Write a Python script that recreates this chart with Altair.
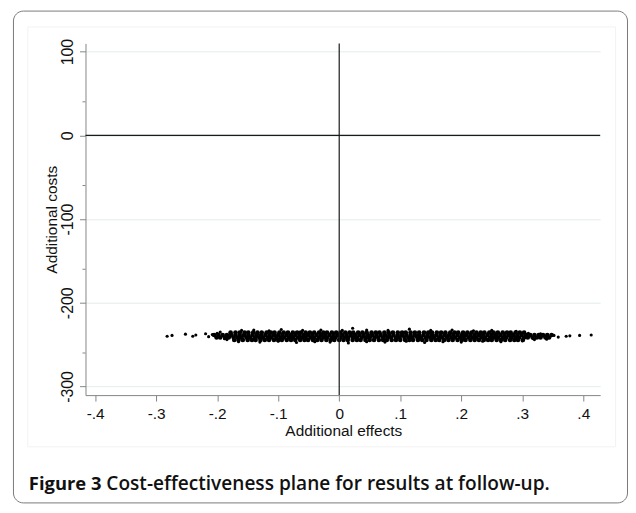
import altair as alt
import pandas as pd

# ---- axis values ----
x_ticks = [-0.4, -0.3, -0.2, -0.1, 0, 0.1, 0.2, 0.3, 0.4]
y_ticks = [-300, -200, -100, 0, 100]
y_minor = [-260, -160, -60, 40]
x_domain = [-0.4158, 0.4277]
y_domain = [-310.3, 109.8]

# ---- bootstrap cloud, x in thousandths ----
row_y = [-235.5, -238.5, -241.5, -244.5]
row1_x = [-178,-170,-163,-155,-149,-141,-134,-127,-119,-112,-106,-98,-91,-84,-76,-69,-63,-55,-48,-41,-33,-26,-20,-12,-5,2,10,17,23,31,38,45,53,60,66,74,81,88,96,103,109,117,124,131,139,146,152,160,167,174,182,189,195,203,210,217,225,232,238,246,253,260,268,275,281,289,296,303]
row2_x = [-205,-198,-191,-184,-177,-170,-163,-156,-149,-142,-135,-128,-121,-114,-107,-100,-93,-86,-79,-72,-65,-58,-51,-44,-37,-30,-23,-16,-9,-2,5,12,19,26,33,40,47,54,61,68,75,82,89,96,103,110,117,124,131,138,145,152,159,166,173,180,187,194,201,208,215,222,229,236,243,250,257,264,271,278,285,292,299,306,313,320,327,334,341,348]
row3_x = [-201,-195,-187,-181,-173,-166,-160,-152,-146,-138,-131,-125,-117,-111,-103,-96,-90,-82,-76,-68,-61,-55,-47,-41,-33,-26,-20,-12,-6,2,9,15,23,29,37,44,50,58,64,72,79,85,93,99,107,114,120,128,134,142,149,155,163,169,177,184,190,198,204,212,219,225,233,239,247,254,260,268,274,282,289,295,303,309,317,324,330,338,344]
row4_x = [-172,-165,-158,-150,-143,-137,-129,-122,-115,-107,-100,-94,-86,-79,-72,-64,-57,-51,-43,-36,-29,-21,-14,-8,0,7,14,22,29,35,43,50,57,65,72,78,86,93,100,108,115,121,129,136,143,151,158,164,172,179,186,194,201,207,215,222,229,237,244,250,258,265,272,280,287,293,301]

# scattered points (tails and ragged edges)
extra_x = [-282,-274,-252,-240,-235,-219,-214,-208,-200,-195,-188,-184,
           -160,-140,-115,-95,-60,-30,5,22,45,80,115,150,185,220,250,290,
           -165,-130,-100,-70,-40,-15,15,45,75,110,140,170,200,235,265,300,320,
           310,318,330,340,352,359,372,378,394,413]
extra_y = [-240,-239,-237.5,-240,-238.5,-237,-240.5,-238,-236.5,-235,-243,-244,
           -233,-232.5,-233.5,-232,-233,-232.5,-233,-230.5,-232.5,-233,-231.5,-233,-232.5,-233.5,-233,-234,
           -246.5,-247,-246,-247.5,-246.5,-247,-248,-246.5,-247,-246,-247.5,-246.5,-247,-246,-246.5,-245.5,-244,
           -236.5,-243,-237,-243.5,-239,-241,-240,-239.5,-239,-238.5]

cx, cy = [], []
for yv, row in zip(row_y, [row1_x, row2_x, row3_x, row4_x]):
    for xv in row:
        cx.append(xv / 1000)
        cy.append(yv)
core = pd.DataFrame({"effect": cx, "cost": cy})
tails = pd.DataFrame({"effect": [v / 1000 for v in extra_x], "cost": extra_y})

caption_bold = "Figure 3"
caption_rest = "Cost-effectiveness plane for results at follow-up."

FONT = "Liberation Sans"
AX = "#858585"

xscale = alt.Scale(domain=x_domain, nice=False, zero=False)
yscale = alt.Scale(domain=y_domain, nice=False, zero=False)

x_axis = alt.Axis(
    values=x_ticks,
    labelExpr="datum.value == 0 ? '0' : (datum.value < 0 ? '-' : '') + replace(format(abs(datum.value), '.1f'), '0.', '.')",
    title="Additional effects", titleX=259.5, titleY=40.5, titleBaseline="alphabetic",
    titleAlign="center", titleFont=FONT, titleFontSize=15.5, titleFontWeight="normal", titleColor="#111",
    labelFont=FONT, labelFontSize=15.5, labelColor="#111", labelBaseline="alphabetic", labelPadding=18,
    labelFlush=False, labelOverlap=False,
    tickSize=6, tickColor=AX, domainColor=AX, grid=False,
)
y_axis = alt.Axis(
    values=y_ticks,
    labelExpr="(datum.value < 0 ? '-' : '') + format(abs(datum.value), 'd')",
    labelAngle=270, labelAlign="center", labelBaseline="alphabetic", labelPadding=7,
    labelFont=FONT, labelFontSize=16, labelColor="#111", labelFlush=False, labelOverlap=False,
    tickSize=6, tickColor=AX, domainColor=AX,
    grid=True, gridColor="#e3ecec", gridWidth=1,
    title="Additional costs", titleAngle=270, titleX=-29, titleY=177, titleBaseline="alphabetic",
    titleAlign="center", titleFont=FONT, titleFontSize=15.5, titleFontWeight="normal", titleColor="#111",
)

one = pd.DataFrame({"a": [0]})

border = alt.Chart(one).mark_rect(
    fillOpacity=0, stroke="#7a7a7a", strokeWidth=1, cornerRadius=10
).encode(x=alt.value(-72.5), x2=alt.value(545.5), y=alt.value(-32.5), y2=alt.value(462.5))

inner = alt.Chart(one).mark_rect(
    fillOpacity=0, stroke="#f2f2f2", strokeWidth=1
).encode(x=alt.value(-58), x2=alt.value(533.5), y=alt.value(-16.5), y2=alt.value(406))

core_pts = alt.Chart(core).mark_circle(size=22, color="#000", opacity=1).encode(
    x=alt.X("effect:Q", scale=xscale, axis=x_axis),
    y=alt.Y("cost:Q", scale=yscale, axis=y_axis),
)
tail_pts = alt.Chart(tails).mark_circle(size=10, color="#000", opacity=1).encode(
    x=alt.X("effect:Q", scale=xscale, axis=x_axis),
    y=alt.Y("cost:Q", scale=yscale, axis=y_axis),
)

minor = alt.Chart(pd.DataFrame({"v": y_minor})).mark_rule(color=AX, strokeWidth=1).encode(
    y=alt.Y("v:Q", scale=yscale, axis=y_axis), x=alt.value(-3), x2=alt.value(0)
)

hline = alt.Chart(pd.DataFrame({"v": [0]})).mark_rule(color="#1a1a1a", strokeWidth=1.2).encode(
    y=alt.Y("v:Q", scale=yscale, axis=y_axis)
)
vline = alt.Chart(pd.DataFrame({"v": [0]})).mark_rule(color="#1a1a1a", strokeWidth=1.2).encode(
    x=alt.X("v:Q", scale=xscale, axis=x_axis)
)

cap1 = alt.Chart(pd.DataFrame({"t": [caption_bold]})).mark_text(
    font="Open Sans", fontSize=18.5, fontWeight=700, align="left", baseline="alphabetic", color="#111"
).encode(text="t:N", x=alt.value(-57), y=alt.value(449.7))
cap2 = alt.Chart(pd.DataFrame({"t": [caption_rest]})).mark_text(
    font="Open Sans", fontSize=19.2, fontWeight=600, align="left", baseline="alphabetic", color="#111"
).encode(text="t:N", x=alt.value(21), y=alt.value(449.7))

chart = alt.layer(border, inner, minor, core_pts, tail_pts, hline, vline, cap1, cap2).properties(
    width=518, height=354,
    autosize=alt.AutoSizeParams(type="none"),
    padding={"left": 78, "top": 34, "right": 28, "bottom": 109},
    background="white",
).configure_view(strokeWidth=0)

chart.save("out.html", embed_options={"renderer": "svg", "actions": False})
